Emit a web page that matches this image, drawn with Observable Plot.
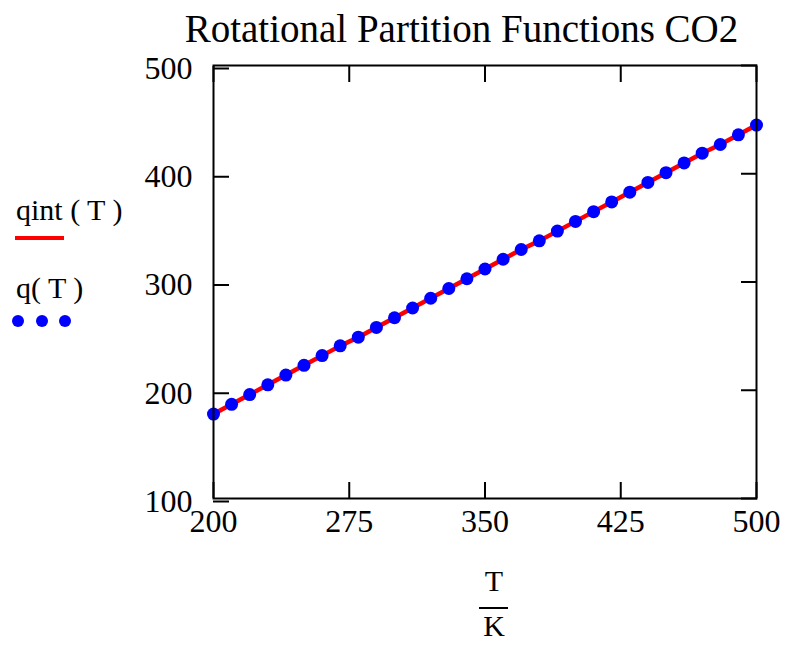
<!DOCTYPE html>
<html>
<head>
<meta charset="utf-8">
<script src="https://cdn.jsdelivr.net/npm/d3@7"></script>
<script src="https://cdn.jsdelivr.net/npm/@observablehq/plot@0.6"></script>
<style>
  body { margin: 0; background: #fff; }
  #wrap { position: relative; width: 785px; height: 645px; font-family: "Liberation Serif", "Times New Roman", serif; color: #000; }
  .abs { position: absolute; white-space: pre; }
</style>
</head>
<body>
<div id="wrap">
  <div id="chart"></div>
  <div class="abs" id="title" style="left:0; width:923px; text-align:center; top:9px; font-size:39px; line-height:39px;">Rotational Partition Functions CO2</div>
  <div class="abs" style="left:16px; top:195px; font-size:30px; line-height:30px;">qint ( T )</div>
  <div class="abs" style="left:15px; top:236px; width:49px; height:4px; background:#ff0000;"></div>
  <div class="abs" style="left:16px; top:273px; font-size:30px; line-height:30px;">q( T )</div>
  <div class="abs" style="left:12px; top:315px; width:12px; height:12px; border-radius:50%; background:#0000ff;"></div>
  <div class="abs" style="left:36px; top:315px; width:12px; height:12px; border-radius:50%; background:#0000ff;"></div>
  <div class="abs" style="left:59px; top:315px; width:12px; height:12px; border-radius:50%; background:#0000ff;"></div>
  <div class="abs" style="left:444px; width:100px; text-align:center; top:566px; font-size:30px; line-height:30px;">T</div>
  <div class="abs" style="left:479px; top:607px; width:29px; height:2px; background:#000;"></div>
  <div class="abs" style="left:444px; width:100px; text-align:center; top:614px; font-size:30px; line-height:24px;">K</div>
</div>
<script>
// Temperatures (K) and partition function values
const temps = [200, 210, 220, 230, 240, 250, 260, 270, 280, 290, 300, 310, 320, 330, 340, 350,
               360, 370, 380, 390, 400, 410, 420, 430, 440, 450, 460, 470, 480, 490, 500];
const qValues = [178, 187, 196, 205, 214, 223, 232, 241, 249, 258, 267, 276, 285, 294, 303, 312,
                 321, 330, 338, 347, 356, 365, 374, 383, 392, 401, 410, 419, 427, 436, 445];
const qintValues = [178, 187, 196, 205, 214, 223, 232, 241, 249, 258, 267, 276, 285, 294, 303, 312,
                    321, 330, 338, 347, 356, 365, 374, 383, 392, 401, 410, 419, 427, 436, 445];
const xTicks = [200, 275, 350, 425, 500];
const yTicks = [100, 200, 300, 400, 500];

const data = temps.map((T, i) => ({T, q: qValues[i], qint: qintValues[i]}));

const axisStyle = {stroke: "#000", strokeWidth: 2, fill: "#000", fontSize: 32, fontFamily: "Liberation Serif"};

const chart = Plot.plot({
  width: 785,
  height: 645,
  marginLeft: 213,
  marginRight: 29,
  marginTop: 65,
  marginBottom: 147,
  style: {fontFamily: "Liberation Serif", background: "#fff", color: "#000"},
  x: {domain: [200, 500]},
  y: {domain: [100, 500]},
  marks: [
    Plot.line(data, {x: "T", y: "qint", stroke: "#ff0000", strokeWidth: 4.5}),
    Plot.dot(data, {x: "T", y: "q", r: 6.5, fill: "#0000ff", stroke: "none"}),
    Plot.axisX(xTicks, {anchor: "bottom", tickSize: -16, tickPadding: 27, label: null, ...axisStyle}),
    Plot.axisX(xTicks, {anchor: "top", tickSize: -16, tickFormat: () => "", label: null, ...axisStyle}),
    Plot.axisY(yTicks, {anchor: "left", tickSize: -16, tickPadding: 37, dy: 3, label: null, ...axisStyle}),
    Plot.axisY(yTicks, {anchor: "right", tickSize: -16, tickFormat: () => "", label: null, ...axisStyle}),
    Plot.frame({stroke: "#000", strokeWidth: 2})
  ]
});
document.getElementById("chart").appendChild(chart);
</script>
</body>
</html>
